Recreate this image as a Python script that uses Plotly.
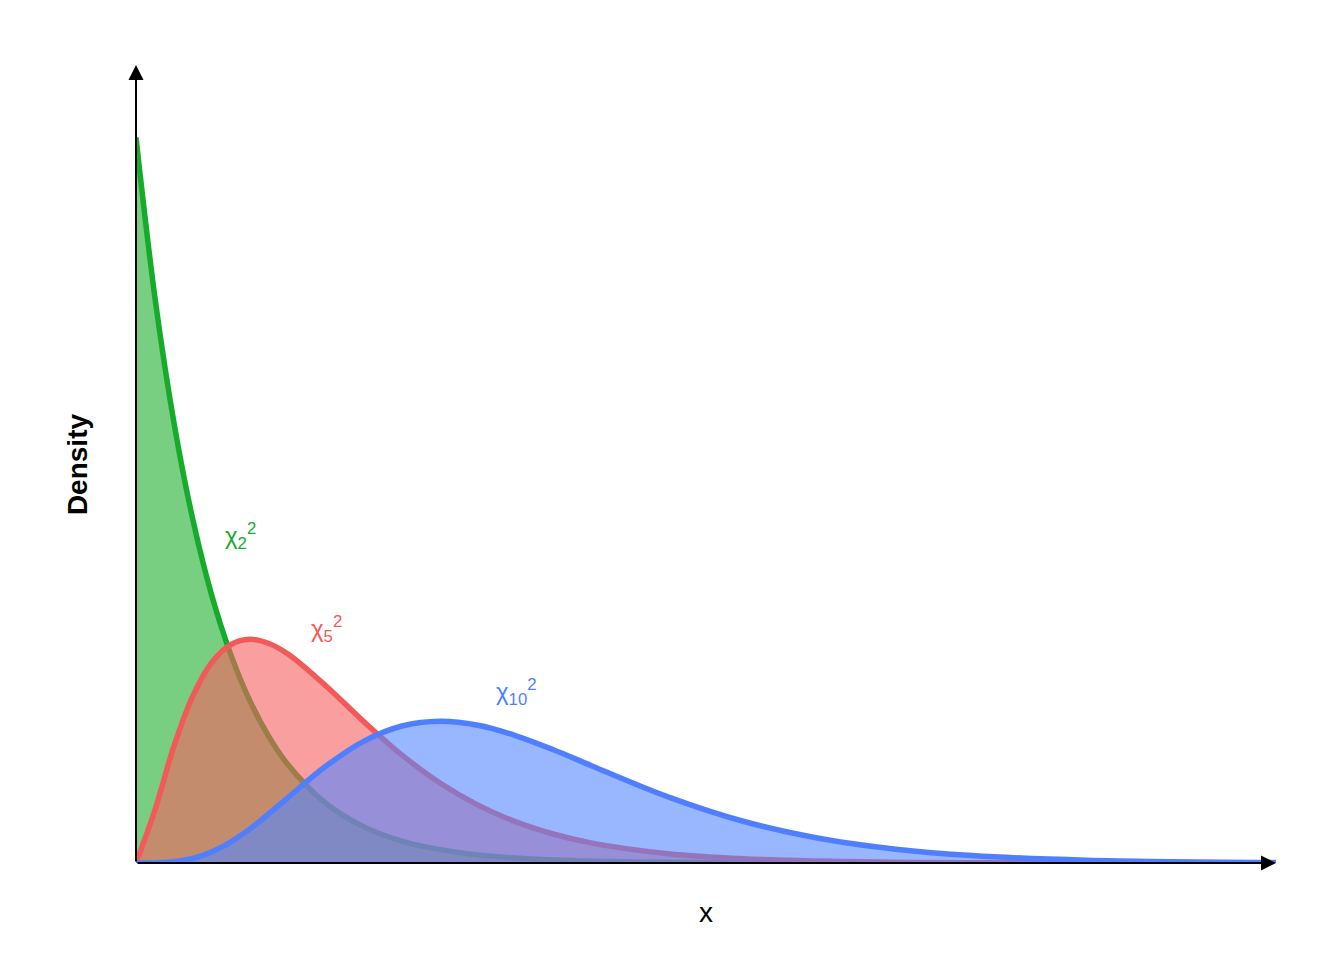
import plotly.graph_objects as go

x = [0, 0.5, 1, 1.5, 2, 2.5, 3, 3.5, 4, 5, 6, 7, 8, 9, 10, 11, 12, 14, 16, 18, 20, 22, 25, 30]
df2 = [0.5, 0.3894, 0.3033, 0.2362, 0.1839, 0.1433, 0.1116, 0.0869, 0.0677, 0.0410, 0.0249, 0.0151,
       0.0092, 0.0056, 0.0034, 0.0020, 0.0012, 0.0005, 0.0002, 0.0001, 0, 0, 0, 0]
df5 = [0, 0.0366, 0.0807, 0.1154, 0.1384, 0.1506, 0.1542, 0.1513, 0.1440, 0.1220, 0.0973, 0.0744,
       0.0551, 0.0399, 0.0283, 0.0198, 0.0137, 0.0064, 0.0029, 0.0013, 0.0005, 0.0002, 0.0001, 0]
df10 = [0, 0.00006, 0.0008, 0.0031, 0.0077, 0.0146, 0.0235, 0.0340, 0.0451, 0.0668, 0.0840, 0.0944,
        0.0977, 0.0949, 0.0877, 0.0779, 0.0669, 0.0456, 0.0286, 0.0169, 0.0095, 0.0051, 0.0019, 0.0003]

series = [
    (df2, "#17ab2b", "rgba(30,175,45,0.6)", "χ<sub>2</sub><sup>2</sup>", 2.75, 0.2255),
    (df5, "#f25a5a", "rgba(245,95,95,0.6)", "χ<sub>5</sub><sup>2</sup>", 5.0, 0.161),
    (df10, "#4f7fff", "rgba(85,135,255,0.6)", "χ<sub>10</sub><sup>2</sup>", 10.0, 0.118),
]

fig = go.Figure()
for ys, lc, fc, lab, lx, ly in series:
    fig.add_trace(go.Scatter(x=x, y=ys, mode="lines", line=dict(color=lc, width=5.5, shape="spline"),
                             fill="tozeroy", fillcolor=fc, showlegend=False))
    fig.add_annotation(x=lx, y=ly, text=lab, showarrow=False, font=dict(color=lc, size=24, family="Liberation Sans"))

fig.add_annotation(x=0, y=0.55, ax=0, ay=0, xref="x", yref="y", axref="x", ayref="y", showarrow=True,
                   arrowhead=2, arrowsize=1.5, arrowwidth=2, arrowcolor="black", text="")
fig.add_annotation(x=30, y=0, ax=0, ay=0, xref="x", yref="y", axref="x", ayref="y", showarrow=True,
                   arrowhead=2, arrowsize=1.5, arrowwidth=2, arrowcolor="black", text="")
fig.add_annotation(x=0.5, y=-67, xref="paper", yref="y domain", text="x", showarrow=False,
                   font=dict(size=28), yshift=0)
fig.add_annotation(xref="paper", yref="paper", x=-0.067, y=0.5, text="<b>Density</b>", textangle=-90,
                   showarrow=False, font=dict(size=28))

fig.update_layout(
    width=1344, height=960, plot_bgcolor="white", paper_bgcolor="white",
    margin=dict(l=128, r=76, t=57, b=105, autoexpand=False),
    font=dict(family="Liberation Sans", color="black"),
    xaxis=dict(range=[0, 30], showgrid=False, zeroline=False, showticklabels=False, ticks="", automargin=False),
    yaxis=dict(range=[0, 0.55], showgrid=False, zeroline=False, showticklabels=False, ticks="", automargin=False),
)
fig.layout.annotations[-2].update(y=0, yref="paper", yshift=-67)
fig.write_html("out.html")
